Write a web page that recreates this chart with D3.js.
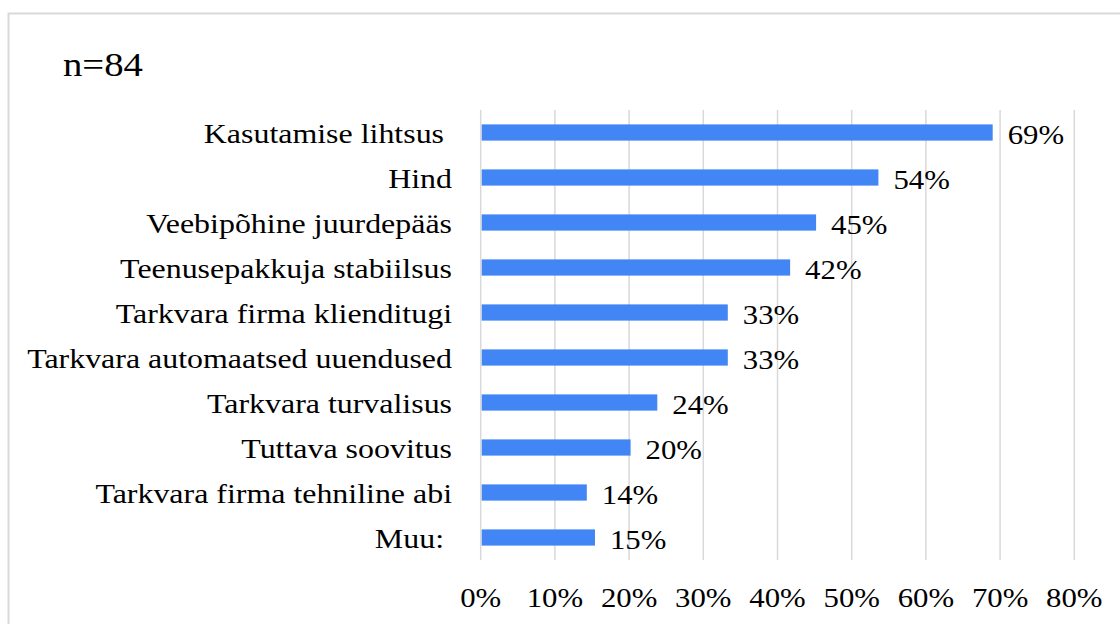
<!DOCTYPE html>
<html>
<head>
<meta charset="utf-8">
<script src="https://cdn.jsdelivr.net/npm/d3@7"></script>
<style>
  body { margin: 0; background: #fff; }
</style>
</head>
<body>
<div id="chart"></div>
<script>
// categories top to bottom, share of respondents (n=84)
let categories = [
  "Kasutamise lihtsus ",
  "Hind",
  "Veebipõhine juurdepääs",
  "Teenusepakkuja stabiilsus",
  "Tarkvara firma klienditugi",
  "Tarkvara automaatsed uuendused",
  "Tarkvara turvalisus",
  "Tuttava soovitus",
  "Tarkvara firma tehniline abi",
  "Muu: "
]
let values = [69.0, 53.6, 45.2, 41.7, 33.3, 33.3, 23.8, 20.2, 14.3, 15.4]
let ticks = [0, 10, 20, 30, 40, 50, 60, 70, 80]
let title = "n=84"

let width = 1120,
  height = 624,
  font = "'Liberation Serif'",
  stretch = 1.14 // the original picture is a bit wider than tall

let svg = d3.select("#chart").append("svg")
  .attr("width", width)
  .attr("height", height)

// puts a text at (x, y), slightly stretched horizontally
function label(sel, px, py) {
  return sel
    .attr("transform", (d, i) => "translate(" + px(d, i) + "," + py(d, i) + ") scale(" + stretch + ",1)")
    .style("font-family", font)
    .style("white-space", "pre")
    .attr("fill", "#000")
}

// outer frame (only top and left edges are visible)
svg.append("rect")
  .attr("x", 8.5).attr("y", 13.5)
  .attr("width", width).attr("height", height)
  .attr("fill", "none")
  .attr("stroke", "#d9d9d9")
  .attr("stroke-width", 2)

let x = d3.scaleLinear()
  .domain([0, 80])
  .range([480.7, 1074.3])

let y = d3.scaleBand()
  .domain(categories)
  .range([110, 560])
  .paddingInner(0.64)
  .paddingOuter(0.32)

// gridlines
svg.append("g")
  .selectAll("line")
  .data(ticks)
  .enter().append("line")
  .attr("x1", d => x(d)).attr("x2", d => x(d))
  .attr("y1", 110).attr("y2", 560)
  .attr("stroke", "#d9d9d9")
  .attr("stroke-width", 1.5)

// bars
svg.append("g")
  .selectAll("rect")
  .data(values)
  .enter().append("rect")
  .attr("x", x(0) + 1)
  .attr("y", (d, i) => y(categories[i]))
  .attr("width", d => x(d) - x(0) - 1)
  .attr("height", y.bandwidth())
  .attr("fill", "#4285f4")

// value labels
label(svg.append("g")
  .selectAll("text")
  .data(values)
  .enter().append("text"),
  d => x(d) + 15,
  (d, i) => y(categories[i]) + y.bandwidth() / 2 + 11)
  .attr("font-size", 27)
  .text(d => Math.round(d) + "%")

// category labels
label(svg.append("g")
  .selectAll("text")
  .data(categories)
  .enter().append("text"),
  d => 452,
  d => y(d) + y.bandwidth() / 2 + 10.8)
  .attr("text-anchor", "end")
  .attr("font-size", 28)
  .text(d => d)

// x axis tick labels
label(svg.append("g")
  .selectAll("text")
  .data(ticks)
  .enter().append("text"),
  d => x(d),
  d => 607)
  .attr("text-anchor", "middle")
  .attr("font-size", 27)
  .text(d => d + "%")

label(svg.append("text").datum(title),
  d => 63,
  d => 76)
  .attr("font-size", 34)
  .text(title)
</script>
</body>
</html>
